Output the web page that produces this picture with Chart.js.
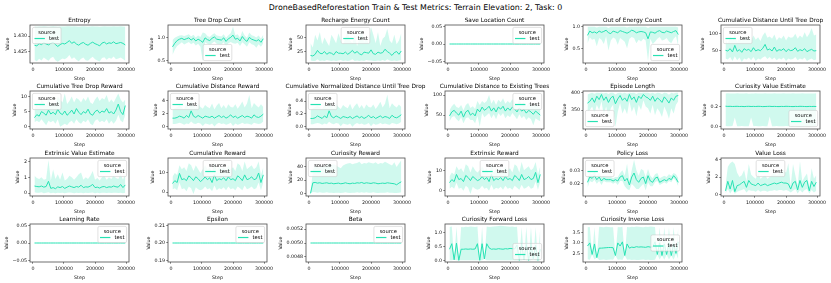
<!DOCTYPE html>
<html><head><meta charset="utf-8">
<script src="https://cdn.jsdelivr.net/npm/chart.js@4.4.1/dist/chart.umd.min.js"></script>
<style>
html,body{margin:0;padding:0;background:#fff;}
#fig{position:relative;width:831px;height:283px;overflow:hidden;background:#fff;}
#sup{position:absolute;left:0;top:2.8px;width:831px;text-align:center;font-family:"DejaVu Sans";font-size:7.9px;line-height:9.5px;color:#000;white-space:nowrap;}
canvas{position:absolute;}
</style></head><body>
<div id="fig"><div id="sup">DroneBasedReforestation Train &amp; Test Metrics: Terrain Elevation: 2, Task: 0</div></div>
<script>
const steps = [5000,12500,20000,27500,35000,42500,50000,57500,65000,72500,80000,87500,95000,102500,110000,117500,125000,132500,140000,147500,155000,162500,170000,177500,185000,192500,200000,207500,215000,222500,230000,237500,245000,252500,260000,267500,275000,282500,290000,297500];
const xTicks = [0,100000,200000,300000];
const xTickLabels = ['0','100000','200000','300000'];
const legendTitle = 'source';
const seriesName = 'test';

const entropyMean = [1.4270,1.4268,1.4275,1.4272,1.4278,1.4274,1.4271,1.4276,1.4280,1.4272,1.4266,1.4272,1.4276,1.4274,1.4279,1.4285,1.4276,1.4281,1.4274,1.4270,1.4276,1.4279,1.4273,1.4270,1.4276,1.4280,1.4275,1.4272,1.4268,1.4277,1.4280,1.4274,1.4278,1.4276,1.4281,1.4275,1.4277,1.4279,1.4276,1.4271];
const entropyLo = [1.4222,1.4218,1.4226,1.4220,1.4230,1.4224,1.4219,1.4228,1.4232,1.4221,1.4216,1.4222,1.4227,1.4224,1.4229,1.4238,1.4225,1.4231,1.4223,1.4218,1.4226,1.4230,1.4221,1.4219,1.4227,1.4232,1.4224,1.4220,1.4217,1.4228,1.4231,1.4223,1.4229,1.4226,1.4233,1.4224,1.4227,1.4230,1.4225,1.4219];
const entropyHi = [1.4331,1.4330,1.4331,1.4331,1.4332,1.4331,1.4330,1.4331,1.4332,1.4331,1.4330,1.4331,1.4331,1.4331,1.4332,1.4332,1.4331,1.4332,1.4331,1.4330,1.4331,1.4332,1.4331,1.4330,1.4331,1.4332,1.4331,1.4331,1.4330,1.4331,1.4332,1.4331,1.4331,1.4331,1.4332,1.4331,1.4331,1.4332,1.4331,1.4330];
const entropyTicks = [1.425,1.430];
const entropyTickLabels = ['1.425','1.430'];

const treeDropMean = [0.80,0.88,0.94,0.97,0.99,0.96,0.98,1.00,0.95,0.99,0.93,0.97,0.94,0.90,1.00,0.96,0.94,0.99,1.02,0.97,0.96,0.95,1.00,0.92,0.98,1.01,1.06,0.97,0.99,0.93,1.03,0.96,0.92,1.01,0.97,0.95,0.93,0.96,0.90,0.98];
const treeDropLo = [0.62,0.74,0.82,0.86,0.90,0.85,0.88,0.91,0.86,0.89,0.83,0.87,0.80,0.48,0.90,0.87,0.84,0.88,0.92,0.87,0.86,0.85,0.90,0.80,0.88,0.91,0.88,0.87,0.89,0.82,0.90,0.86,0.80,0.90,0.86,0.84,0.78,0.86,0.80,0.88];
const treeDropHi = [0.95,1.00,1.03,1.05,1.06,1.04,1.06,1.08,1.03,1.07,1.01,1.05,1.02,1.12,1.10,1.04,1.02,1.07,1.10,1.05,1.04,1.03,1.08,1.00,1.06,1.10,1.245,1.06,1.08,1.01,1.15,1.05,1.00,1.12,1.06,1.04,1.01,1.05,0.98,1.07];
const treeDropTicks = [0.5,1.0];
const treeDropTickLabels = ['0.5','1.0'];

const rechargeMean = [18,17,20,27,22,21,25,20,23,22,19,25,22,22,21,24,20,23,27,22,25,21,19,24,23,22,28,21,20,24,22,23,29,25,22,18,23,25,20,26];
const rechargeLo = [9,8,8,11,8,9,8,10,9,8,9,8,9,10,8,9,8,9,11,8,9,8,9,8,10,9,9,8,8,9,8,10,8,11,9,8,9,8,9,10];
const rechargeHi = [40,32,55,45,60,38,50,42,35,55,48,40,58,45,38,50,62,45,40,55,35,48,65,42,50,38,69,55,40,60,35,48,52,66,45,40,55,38,45,58];
const rechargeTicks = [25,50];
const rechargeTickLabels = ['25','50'];

const saveLocMean = [0,0,0,0,0,0,0,0,0,0,0,0,0,0,0,0,0,0,0,0,0,0,0,0,0,0,0,0,0,0,0,0,0,0,0,0,0,0,0,0];
const saveLocTicks = [-0.05,0,0.05];
const saveLocTickLabels = ['\u22120.05','0.00','0.05'];

const outEnergyMean = [0.80,0.90,0.86,0.88,0.85,0.90,0.87,0.89,0.92,0.86,0.84,0.90,0.88,0.86,0.91,0.89,0.87,0.85,0.88,0.92,0.90,0.86,0.88,0.89,0.88,0.86,0.72,0.88,0.87,0.85,0.89,0.91,0.87,0.86,0.90,0.88,0.86,0.89,0.91,0.82];
const outEnergyLo = [0.62,0.75,0.70,0.72,0.55,0.74,0.70,0.60,0.78,0.45,0.68,0.75,0.72,0.58,0.74,0.70,0.65,0.50,0.72,0.76,0.74,0.62,0.70,0.66,0.72,0.68,0.20,0.72,0.60,0.65,0.72,0.76,0.68,0.70,0.74,0.66,0.62,0.72,0.78,0.55];
const outEnergyHi = [1.0,1.0,1.0,1.0,0.98,1.0,1.0,1.0,1.0,0.97,1.0,1.0,1.0,1.0,1.0,1.0,1.0,0.98,1.0,1.0,1.0,1.0,1.0,1.0,1.0,1.0,0.97,1.0,1.0,1.0,1.0,1.0,1.0,1.0,1.0,1.0,1.0,1.0,1.0,0.98];
const outEnergyTicks = [0.5,1.0];
const outEnergyTickLabels = ['0.5','1.0'];

const distUntilDropMean = [50,48,55,45,65,47,52,44,55,50,53,46,58,48,52,49,56,68,51,54,48,60,47,52,50,55,46,53,49,51,58,47,52,49,55,46,50,53,48,49];
const distUntilDropLo = [25,22,30,18,32,20,28,15,25,22,28,20,30,18,25,22,28,32,24,30,22,28,20,26,22,28,18,25,22,24,30,20,25,22,28,18,22,25,20,22];
const distUntilDropHi = [85,70,95,80,100,75,90,78,92,85,88,80,95,82,90,78,95,105,88,92,85,98,80,90,85,95,80,92,88,90,100,85,95,88,105,90,100,118,95,98];
const distUntilDropTicks = [50,100];
const distUntilDropTickLabels = ['50','100'];

const treeDropRewardMean = [3.0,4.0,3.5,5.0,4.5,3.8,5.5,4.2,4.8,4.0,5.8,4.5,4.0,5.2,3.8,4.5,5.5,4.2,6.0,4.8,4.0,5.0,4.5,5.8,4.2,3.8,5.0,5.5,4.5,5.2,4.8,6.0,4.5,5.0,4.2,5.5,7.5,5.0,4.0,7.0];
const treeDropRewardLo = [1.5,2,1.5,2.5,1.5,0.5,2,1.5,2,1,2.5,0,0.5,1,0.5,1.5,2,1,2.5,1.5,1,2,1.5,2.5,1,0.5,2,2.5,1.5,2,1.5,2.5,1,2,1,2,4,2,1.5,4];
const treeDropRewardHi = [6,7,6.5,9,8,7,9.5,7.5,8,7,10,9,8,11,7.5,8.5,10,8,9.5,9,8,9.5,8.5,10,8,7.5,9,10,8.5,9.5,9,10.5,8,9,8,9.5,11,9,8,9];
const treeDropRewardTicks = [0,5,10];
const treeDropRewardTickLabels = ['0','5','10'];

const distRewardMean = [1.3,1.3,1.4,1.6,1.5,1.3,1.7,1.4,2.4,1.6,1.4,1.7,1.5,1.3,1.6,1.5,1.4,1.6,1.3,1.5,1.7,1.4,1.6,1.3,1.5,1.8,1.4,1.6,1.3,1.5,1.7,1.4,1.6,1.5,1.3,1.8,1.5,1.4,1.6,1.9];
const distRewardLo = [0.4,0.4,0.5,0.6,0.5,0.3,0.5,0.4,0.8,0.5,0.4,0.6,0.5,0.1,0.5,0.4,0.3,0.5,0.05,0.4,0.6,0.4,0.5,0.3,0.4,0.6,0.1,0.5,0.3,0.4,0.6,0.4,0.5,0.4,0.3,0.6,0.5,0.4,0.5,0.8];
const distRewardHi = [2.5,2.8,3.0,3.2,3.0,2.6,3.5,2.8,4.0,3.2,2.8,3.5,3.0,2.7,3.3,3.0,2.8,3.5,2.6,3.2,3.6,2.8,3.3,2.7,3.4,3.0,2.9,3.4,2.7,3.2,3.8,2.9,3.5,4.8,2.8,3.6,3.2,2.9,3.4,3.0];
const distRewardTicks = [0,2,4];
const distRewardTickLabels = ['0','2','4'];

const normDistMean = [0.13,0.13,0.14,0.17,0.15,0.13,0.17,0.14,0.25,0.16,0.14,0.17,0.15,0.13,0.16,0.15,0.14,0.16,0.13,0.15,0.17,0.14,0.16,0.13,0.15,0.18,0.14,0.16,0.13,0.15,0.17,0.14,0.16,0.15,0.13,0.18,0.15,0.14,0.16,0.19];
const normDistLo = [0.04,0.04,0.05,0.06,0.05,0.03,0.05,0.04,0.08,0.05,0.04,0.06,0.05,0.01,0.05,0.04,0.03,0.05,0.00,0.04,0.06,0.04,0.05,0.03,0.04,0.06,0.01,0.05,0.03,0.04,0.06,0.04,0.05,0.04,0.03,0.06,0.05,0.04,0.05,0.08];
const normDistHi = [0.26,0.29,0.31,0.33,0.31,0.27,0.36,0.29,0.41,0.33,0.29,0.36,0.31,0.28,0.34,0.31,0.29,0.36,0.27,0.33,0.37,0.29,0.34,0.28,0.35,0.31,0.30,0.35,0.28,0.33,0.39,0.30,0.36,0.50,0.29,0.37,0.33,0.30,0.35,0.31];
const normDistTicks = [0,0.2,0.4];
const normDistTickLabels = ['0.0','0.2','0.4'];

const distTreesMean = [48,58,62,55,50,60,45,58,62,50,55,48,65,58,70,62,66,72,60,68,58,70,65,72,60,68,62,70,65,58,68,60,64,55,62,58,52,60,55,50];
const distTreesLo = [35,45,48,40,35,45,30,42,45,38,38,30,48,22,55,45,50,55,42,52,40,55,48,55,42,50,45,55,48,40,52,42,48,38,45,40,25,42,38,35];
const distTreesHi = [62,72,78,70,68,75,62,75,80,68,72,65,85,75,85,80,85,100,78,88,75,88,82,92,78,85,80,90,82,75,88,78,82,72,80,76,70,78,72,68];
const distTreesTicks = [50,100];
const distTreesTickLabels = ['50','100'];

const episodeLenMean = [370,375,385,372,390,380,395,378,388,372,385,390,368,382,392,378,385,375,395,380,388,372,390,383,395,388,385,378,390,375,385,380,372,388,380,370,385,378,390,392];
const episodeLenLo = [345,350,360,340,365,350,375,335,360,330,355,365,300,345,370,340,355,338,375,345,360,332,365,350,378,360,355,340,365,335,355,345,330,360,345,325,355,340,365,375];
const episodeLenHi = [395,398,400,397,400,399,400,398,400,396,400,400,395,399,400,398,400,397,400,399,400,396,400,399,400,400,400,398,400,397,400,399,396,400,399,394,400,398,400,400];
const episodeLenTicks = [350,400];
const episodeLenTickLabels = ['350','400'];

const curValueMean = [0.203,0.201,0.202,0.200,0.201,0.202,0.200,0.201,0.199,0.201,0.202,0.200,0.201,0.200,0.202,0.201,0.199,0.200,0.201,0.202,0.200,0.201,0.200,0.199,0.201,0.200,0.202,0.201,0.200,0.199,0.201,0.200,0.202,0.201,0.200,0.199,0.201,0.200,0.201,0.200];
const curValueLo = [0.005,0.002,0.003,0.004,0.09,0.003,0.002,0.004,0.003,0.002,0.003,0.09,0.002,0.004,0.003,0.002,0.004,0.003,0.002,0.10,0.003,0.002,0.004,0.003,0.002,0.003,0.004,0.002,0.003,0.002,0.004,0.003,0.002,0.003,0.004,0.002,0.003,0.002,0.004,0.003];
const curValueHi = [0.330,0.332,0.329,0.331,0.330,0.333,0.329,0.331,0.330,0.332,0.328,0.331,0.330,0.332,0.329,0.331,0.330,0.333,0.329,0.331,0.330,0.332,0.329,0.331,0.330,0.332,0.330,0.331,0.329,0.332,0.330,0.331,0.329,0.332,0.330,0.331,0.329,0.331,0.330,0.332];
const curValueTicks = [0,0.2];
const curValueTickLabels = ['0.0','0.2'];

const extValueMean = [0.45,0.42,0.40,0.45,0.38,0.42,0.75,0.30,0.35,0.28,0.40,0.35,0.42,0.30,0.38,0.45,0.40,0.35,0.42,0.38,0.50,0.35,0.40,0.38,0.45,0.55,0.35,0.38,0.32,0.40,0.42,0.35,0.40,0.38,0.45,0.40,0.38,0.55,0.35,0.52];
const extValueLo = [0.05,0.03,0.02,0.05,0.0,0.02,0.05,0.0,0.02,0.0,0.03,0.01,0.02,0.0,0.02,0.04,0.02,0.0,0.02,0.01,0.03,0.0,0.02,0.01,0.03,0.04,0.0,0.02,0.0,0.02,0.03,0.01,0.02,0.01,0.03,0.02,0.01,0.03,0.0,0.03];
const extValueHi = [1.1,0.95,0.9,1.0,0.85,0.9,2.1,0.8,1.5,0.9,1.2,0.85,1.3,0.8,0.9,1.1,1.0,0.85,1.0,1.2,1.3,0.85,1.0,0.9,1.1,1.4,0.85,0.95,0.8,1.0,1.1,0.85,1.0,0.9,1.1,0.95,0.9,1.2,0.85,1.2];
const extValueTicks = [0,1,2];
const extValueTickLabels = ['0','1','2'];

const cumRewardMean = [4.5,6.0,5.0,9.8,6.5,7.0,6.0,8.5,7.5,6.0,8.0,7.0,5.5,6.5,8.0,6.5,7.5,5.0,9.0,6.0,7.0,6.5,7.5,6.0,8.0,6.5,7.0,6.0,8.5,7.5,6.0,9.0,6.5,7.0,8.0,6.5,7.0,10.0,5.0,9.0];
const cumRewardLo = [1.5,2,1,5,1.5,2,0.5,3,2,-1,2.5,1.5,1,1.5,3,1.5,2,0.5,3.5,1,2,1.5,2.5,1,3,1.5,2,1,3,2,1,3.5,1.5,2,3,1.5,2,5,1,5];
const cumRewardHi = [8,10,9,14,12,13,11,15,14,11,14,12,10,12,14,12,13,10,15,11,13,12,13,11,14,12,13,11,15,14,11,16,12,13,14,12,13,16,9,13];
const cumRewardTicks = [0,10];
const cumRewardTickLabels = ['0','10'];

const curRewardMean = [0,16,16.5,15.5,16,15,15.5,16,15,15.5,14.5,15,15.5,14.5,15,16,15,14.5,15.5,15,16,15.5,16.5,15,16,15.5,15,16,15.5,14.5,15,15.5,15,16,15.5,15,14.5,13,15.5,17.5];
const curRewardLo = [0,2,1.5,1,1.5,1,1,1.5,1,1,0.5,1,1,0.5,1,1.5,1,0.5,1,1,1.5,1,1.5,1,1.5,1,1,1.5,1,0.5,1,1,1,1.5,1,1,0.5,0.5,1,1.5];
const curRewardHi = [0,35,42,40,38,42,40,44,45,43,44,42,40,38,42,44,45,46,44,45,46,48,44,46,45,47,46,45,47,44,46,45,48,46,44,42,47,40,45,50];
const curRewardTicks = [0,20,40];
const curRewardTickLabels = ['0','20','40'];

const extRewardMean = [4.0,5.5,4.5,8.0,5.5,6.0,4.5,7.5,6.5,5.0,7.0,6.0,5.0,5.5,7.0,5.5,6.5,4.5,8.0,5.0,6.0,5.5,6.5,5.0,7.0,5.5,6.0,5.0,7.5,6.5,5.0,8.0,5.5,6.0,7.0,5.5,6.0,9.0,4.0,8.0];
const extRewardLo = [1,2,1,4,1,1.5,0,2.5,1.5,-1.5,2,1,0.5,1,2.5,1,1.5,0,3,0.5,1.5,1,2,0.5,2.5,1,1.5,0.5,2.5,1.5,0.5,3,1,1.5,2.5,1,1.5,4.5,0.5,4.5];
const extRewardHi = [7,9,8,12,10,11,9,13,12,9,12,10,9,10,12,10,11,8,13,9,11,10,11,9,12,10,11,9,13,12,9,14,10,11,12,10,11,14,8,12];
const extRewardTicks = [0,10];
const extRewardTickLabels = ['0','10'];

const policyLossMean = [0.021,0.025,0.024,0.026,0.023,0.025,0.022,0.024,0.023,0.023,0.023,0.022,0.023,0.022,0.025,0.026,0.022,0.024,0.019,0.025,0.028,0.023,0.021,0.024,0.025,0.020,0.026,0.022,0.021,0.024,0.025,0.021,0.022,0.023,0.022,0.024,0.023,0.026,0.024,0.021];
const policyLossLo = [0.017,0.022,0.021,0.023,0.020,0.022,0.019,0.022,0.021,0.021,0.021,0.020,0.021,0.019,0.022,0.022,0.018,0.016,0.015,0.020,0.018,0.016,0.016,0.018,0.020,0.015,0.021,0.018,0.018,0.021,0.022,0.019,0.020,0.021,0.020,0.022,0.021,0.024,0.022,0.018];
const policyLossHi = [0.025,0.028,0.027,0.029,0.026,0.028,0.025,0.026,0.025,0.025,0.025,0.024,0.025,0.025,0.028,0.030,0.026,0.035,0.022,0.030,0.038,0.030,0.026,0.031,0.030,0.025,0.031,0.026,0.024,0.027,0.028,0.024,0.025,0.026,0.025,0.027,0.026,0.028,0.027,0.024];
const policyLossTicks = [0.02,0.03];
const policyLossTickLabels = ['0.02','0.03'];

const valueLossMean = [0.4,1.5,0.6,1.6,0.3,1.0,1.1,1.3,1.5,0.8,1.6,1.2,1.1,1.0,1.3,1.0,1.1,1.2,1.0,1.1,1.2,1.3,1.2,1.3,1.4,1.3,1.3,1.2,0.6,1.3,1.5,0.5,1.6,0.8,1.4,1.6,0.4,1.5,0.9,1.4];
const valueLossLo = [0.1,0.6,0.1,0.5,0.05,0.3,0.4,0.5,0.6,0.2,0.5,0.4,0.4,0.3,0.5,0.3,0.4,0.4,0.3,0.4,0.4,0.5,0.4,0.5,0.5,0.4,0.5,0.4,0.2,0.4,0.6,0.1,0.5,0.2,0.5,0.6,0.1,0.5,0.2,0.4];
const valueLossHi = [1.0,3.2,3.6,3.8,3.5,2.5,2.0,2.2,2.8,1.5,3.5,2.3,2.0,1.8,2.5,1.8,2.0,2.2,1.8,2.0,2.3,2.5,2.2,2.4,2.6,2.8,2.5,3.6,1.0,3.5,2.2,1.0,3.8,1.5,2.0,2.4,0.8,3.0,1.8,2.2];
const valueLossTicks = [0,2,4];
const valueLossTickLabels = ['0','2','4'];

const learningRateMean = [0,0,0,0,0,0,0,0,0,0,0,0,0,0,0,0,0,0,0,0,0,0,0,0,0,0,0,0,0,0,0,0,0,0,0,0,0,0,0,0];
const learningRateTicks = [-0.05,0,0.05];
const learningRateTickLabels = ['\u22120.05','0.00','0.05'];

const epsilonMean = [0.2,0.2,0.2,0.2,0.2,0.2,0.2,0.2,0.2,0.2,0.2,0.2,0.2,0.2,0.2,0.2,0.2,0.2,0.2,0.2,0.2,0.2,0.2,0.2,0.2,0.2,0.2,0.2,0.2,0.2,0.2,0.2,0.2,0.2,0.2,0.2,0.2,0.2,0.2,0.2];
const epsilonTicks = [0.19,0.20,0.21];
const epsilonTickLabels = ['0.19','0.20','0.21'];

const betaMean = [0.005,0.005,0.005,0.005,0.005,0.005,0.005,0.005,0.005,0.005,0.005,0.005,0.005,0.005,0.005,0.005,0.005,0.005,0.005,0.005,0.005,0.005,0.005,0.005,0.005,0.005,0.005,0.005,0.005,0.005,0.005,0.005,0.005,0.005,0.005,0.005,0.005,0.005,0.005,0.005];
const betaTicks = [0.0048,0.0050,0.0052];
const betaTickLabels = ['0.0048','0.0050','0.0052'];

const fwdLossMean = [0.40,0.60,0.02,0.62,0.00,0.40,0.40,0.41,0.40,0.41,0.40,0.41,0.60,0.00,0.60,0.05,0.60,0.45,0.40,0.41,0.40,0.42,0.41,0.40,0.42,0.41,0.43,0.42,0.41,0.55,0.00,0.60,0.02,0.58,0.00,0.60,0.05,0.55,0.00,0.40];
const fwdLossLo = [0,0,0.02,0,0,0,0,0,0,0,0,0,0,0,0,0.05,0,0,0,0,0,0,0,0,0,0,0,0,0,0,0,0,0.02,0,0,0,0.05,0,0,0];
const fwdLossHi = [1.20,1.22,0.02,1.21,0.00,1.20,1.19,1.21,1.20,1.22,1.21,1.20,1.22,0.00,1.21,0.05,1.22,1.20,1.21,1.22,1.23,1.24,1.25,1.24,1.23,1.22,1.21,1.22,1.20,1.21,0.00,1.20,0.02,1.21,0.00,1.20,0.05,1.19,0.00,1.18];
const fwdLossTicks = [0,0.5,1.0];
const fwdLossTickLabels = ['0.0','0.5','1.0'];

const invLossMean = [2.85,3.00,2.45,2.95,2.30,2.75,2.75,2.76,2.77,2.78,2.78,2.77,2.40,3.00,2.85,3.05,2.40,2.95,2.75,2.80,2.78,2.82,2.80,2.81,2.80,2.79,2.82,2.80,2.81,3.05,2.45,3.00,2.40,2.95,2.45,3.00,2.40,2.95,2.50,3.05];
const invLossLo = [2.22,2.20,2.45,2.21,2.30,2.19,2.20,2.21,2.19,2.20,2.21,2.20,2.40,2.20,2.21,2.19,2.40,2.20,2.21,2.19,2.20,2.18,2.19,2.20,2.21,2.19,2.20,2.18,2.19,2.20,2.45,2.21,2.40,2.20,2.45,2.21,2.40,2.20,2.50,2.22];
const invLossHi = [3.74,3.76,2.45,3.75,2.30,3.77,3.76,3.75,3.77,3.76,3.75,3.74,2.40,3.76,3.75,3.77,2.40,3.76,3.75,3.77,3.76,3.78,3.77,3.76,3.75,3.77,3.76,3.78,3.77,3.76,2.45,3.75,2.40,3.76,2.45,3.75,2.40,3.76,2.50,3.74];
const invLossTicks = [2.5,3.0,3.5];
const invLossTickLabels = ['2.5','3.0','3.5'];

const panels = [
  {title:'Entropy', mean:entropyMean, lo:entropyLo, hi:entropyHi, yMin:1.4212, yMax:1.4336, ticks:entropyTicks, labels:entropyTickLabels, loc:'ul'},
  {title:'Tree Drop Count', mean:treeDropMean, lo:treeDropLo, hi:treeDropHi, yMin:0.44, yMax:1.286, ticks:treeDropTicks, labels:treeDropTickLabels, loc:'lc'},
  {title:'Recharge Energy Count', mean:rechargeMean, lo:rechargeLo, hi:rechargeHi, yMin:4.4, yMax:72.6, ticks:rechargeTicks, labels:rechargeTickLabels, loc:'uc'},
  {title:'Save Location Count', mean:saveLocMean, yMin:-0.055, yMax:0.055, ticks:saveLocTicks, labels:saveLocTickLabels, loc:'ur'},
  {title:'Out of Energy Count', mean:outEnergyMean, lo:outEnergyLo, hi:outEnergyHi, yMin:0.16, yMax:1.04, ticks:outEnergyTicks, labels:outEnergyTickLabels, loc:'lr'},
  {title:'Cumulative Distance Until Tree Drop', mean:distUntilDropMean, lo:distUntilDropLo, hi:distUntilDropHi, yMin:11.6, yMax:126.8, ticks:distUntilDropTicks, labels:distUntilDropTickLabels, loc:'ul'},
  {title:'Cumulative Tree Drop Reward', mean:treeDropRewardMean, lo:treeDropRewardLo, hi:treeDropRewardHi, yMin:-0.74, yMax:11.8, ticks:treeDropRewardTicks, labels:treeDropRewardTickLabels, loc:'ul'},
  {title:'Cumulative Distance Reward', mean:distRewardMean, lo:distRewardLo, hi:distRewardHi, yMin:-0.34, yMax:5.4, ticks:distRewardTicks, labels:distRewardTickLabels, loc:'ul'},
  {title:'Cumulative Normalized Distance Until Tree Drop', mean:normDistMean, lo:normDistLo, hi:normDistHi, yMin:-0.035, yMax:0.56, ticks:normDistTicks, labels:normDistTickLabels, loc:'ul'},
  {title:'Cumulative Distance to Existing Trees', mean:distTreesMean, lo:distTreesLo, hi:distTreesHi, yMin:15.5, yMax:110, ticks:distTreesTicks, labels:distTreesTickLabels, loc:'ur'},
  {title:'Episode Length', mean:episodeLenMean, lo:episodeLenLo, hi:episodeLenHi, yMin:295, yMax:405, ticks:episodeLenTicks, labels:episodeLenTickLabels, loc:'ll'},
  {title:'Curiosity Value Estimate', mean:curValueMean, lo:curValueLo, hi:curValueHi, yMin:-0.025, yMax:0.355, ticks:curValueTicks, labels:curValueTickLabels, loc:'lr'},
  {title:'Extrinsic Value Estimate', mean:extValueMean, lo:extValueLo, hi:extValueHi, yMin:-0.18, yMax:2.22, ticks:extValueTicks, labels:extValueTickLabels, loc:'ur'},
  {title:'Cumulative Reward', mean:cumRewardMean, lo:cumRewardLo, hi:cumRewardHi, yMin:-2.0, yMax:17.8, ticks:cumRewardTicks, labels:cumRewardTickLabels, loc:'uc'},
  {title:'Curiosity Reward', mean:curRewardMean, lo:curRewardLo, hi:curRewardHi, yMin:-4, yMax:53.5, ticks:curRewardTicks, labels:curRewardTickLabels, loc:'ul'},
  {title:'Extrinsic Reward', mean:extRewardMean, lo:extRewardLo, hi:extRewardHi, yMin:-2.5, yMax:16, ticks:extRewardTicks, labels:extRewardTickLabels, loc:'uc'},
  {title:'Policy Loss', mean:policyLossMean, lo:policyLossLo, hi:policyLossHi, yMin:0.0107, yMax:0.0393, ticks:policyLossTicks, labels:policyLossTickLabels, loc:'ul'},
  {title:'Value Loss', mean:valueLossMean, lo:valueLossLo, hi:valueLossHi, yMin:-0.2, yMax:4.2, ticks:valueLossTicks, labels:valueLossTickLabels, loc:'uc'},
  {title:'Learning Rate', mean:learningRateMean, yMin:-0.055, yMax:0.055, ticks:learningRateTicks, labels:learningRateTickLabels, loc:'ur'},
  {title:'Epsilon', mean:epsilonMean, yMin:0.189, yMax:0.211, ticks:epsilonTicks, labels:epsilonTickLabels, loc:'ur'},
  {title:'Beta', mean:betaMean, yMin:0.004725, yMax:0.005275, ticks:betaTicks, labels:betaTickLabels, loc:'ur'},
  {title:'Curiosity Forward Loss', mean:fwdLossMean, lo:fwdLossLo, hi:fwdLossHi, yMin:-0.06, yMax:1.31, ticks:fwdLossTicks, labels:fwdLossTickLabels, loc:'lr'},
  {title:'Curiosity Inverse Loss', mean:invLossMean, lo:invLossLo, hi:invLossHi, yMin:2.09, yMax:3.9, ticks:invLossTicks, labels:invLossTickLabels, loc:'cr'}
];

const FONT = '"DejaVu Sans"';
const LINE = '#27e2b3';
const BAND = 'rgba(39,226,179,0.22)';
const FRAME = '#4d4d4d';
const colLeft = [30,168,306,445,583,721];
const rowTop = [25,91,158,224];
const plotW = 99, plotH = 38, padRight = 26, padLeftExtra = 12, padTopSpace = 11;

const mplDecor = {
  id:'mplDecor',
  afterDraw(chart, args, o) {
    const ctx = chart.ctx, a = chart.chartArea;
    ctx.save();
    ctx.strokeStyle = FRAME; ctx.lineWidth = 0.8;
    ctx.strokeRect(a.left, a.top, a.right - a.left, a.bottom - a.top);
    ctx.font = '5.8px ' + FONT;
    ctx.fillStyle = '#000'; ctx.textAlign = 'center'; ctx.textBaseline = 'middle';
    ctx.fillText(o.title, (a.left + a.right)/2, a.top - 4.6);
    const fs = 5.2;
    ctx.font = fs + 'px ' + FONT;
    const tw = ctx.measureText(seriesName).width, sw = ctx.measureText(legendTitle).width;
    const pad = 0.4*fs;
    const w = Math.max(sw, 2.8*fs + tw) + 2*pad;
    const h = 16.2, off = 2.4;
    const loc = o.loc;
    let x, y;
    if (loc[1] === 'l') x = a.left + off; else if (loc[1] === 'r') x = a.right - off - w; else x = (a.left + a.right - w)/2;
    if (loc[0] === 'u') y = a.top + off; else if (loc[0] === 'l') y = a.bottom - off - h; else y = (a.top + a.bottom - h)/2;
    ctx.beginPath();
    ctx.roundRect(x, y, w, h, 1.5);
    ctx.fillStyle = 'rgba(255,255,255,0.8)'; ctx.fill();
    ctx.strokeStyle = '#cccccc'; ctx.lineWidth = 0.6; ctx.stroke();
    ctx.fillStyle = '#000'; ctx.textBaseline = 'middle'; ctx.textAlign = 'center';
    ctx.fillText(legendTitle, x + w/2, y + pad + 2.8);
    const ey = y + h - pad - 3.0;
    ctx.beginPath(); ctx.moveTo(x + pad, ey); ctx.lineTo(x + pad + 2*fs, ey);
    ctx.strokeStyle = LINE; ctx.lineWidth = 1.2; ctx.stroke();
    ctx.textAlign = 'left';
    ctx.fillText(seriesName, x + pad + 2.8*fs, ey);
    ctx.restore();
  }
};

function pts(arr){ return arr.map((v,i)=>({x:steps[i], y:v})); }

function makeCfg(p, padL, padT, padB) {
  const datasets = [{data:pts(p.mean), borderColor:LINE, borderWidth:1, pointRadius:0, fill:false, tension:0}];
  if (p.lo) {
    datasets.push({data:pts(p.hi), borderColor:'rgba(0,0,0,0)', borderWidth:0, pointRadius:0, fill:'+1', backgroundColor:BAND, tension:0});
    datasets.push({data:pts(p.lo), borderColor:'rgba(0,0,0,0)', borderWidth:0, pointRadius:0, fill:false, tension:0});
  }
  const tickFont = {family:FONT, size:4.75, lineHeight:1.0};
  return {
    type:'line',
    data:{datasets},
    plugins:[mplDecor],
    options:{
      responsive:false, maintainAspectRatio:false, animation:false, devicePixelRatio:1,
      layout:{padding:{left:padL, top:padT, right:padRight, bottom:padB}},
      plugins:{
        legend:{display:false}, tooltip:{enabled:false}, title:{display:false},
        mplDecor:{loc:p.loc, title:p.title}
      },
      scales:{
        x:{type:'linear', min:-9500, max:309500,
           afterBuildTicks:s=>{ s.ticks = xTicks.map(v=>({value:v})); },
           ticks:{callback:(v,i)=>xTickLabels[i], font:tickFont, color:'#111', padding:2.6, maxRotation:0, minRotation:0, autoSkip:false},
           grid:{display:true, drawOnChartArea:false, drawTicks:true, tickLength:1.7, tickColor:'#222', tickWidth:0.6},
           border:{display:false},
           title:{display:true, text:'Step', color:'#111', font:tickFont, padding:{top:1.3, bottom:0}}},
        y:{type:'linear', min:p.yMin, max:p.yMax,
           afterBuildTicks:s=>{ s.ticks = p.ticks.map(v=>({value:v})); },
           ticks:{callback:(v,i)=>p.labels[i], font:tickFont, color:'#111', padding:1.3, autoSkip:false},
           grid:{display:true, drawOnChartArea:false, drawTicks:true, tickLength:1.7, tickColor:'#222', tickWidth:0.6},
           border:{display:false},
           title:{display:true, text:'Value', color:'#111', font:tickFont, padding:{top:0, bottom:2.3}}}
      }
    }
  };
}

const fig = document.getElementById('fig');
panels.forEach((p, k) => {
  const r = Math.floor(k/6), c = k % 6;
  const c1 = document.createElement('canvas');
  c1.width = 260; c1.height = 120;
  c1.style.width = '260px'; c1.style.height = '120px'; c1.style.left = '-1000px'; c1.style.top = '0px';
  fig.appendChild(c1);
  const ch1 = new Chart(c1, makeCfg(p, padLeftExtra, padTopSpace, 0));
  const L = ch1.chartArea.left, T = ch1.chartArea.top, B = 120 - ch1.chartArea.bottom;
  ch1.destroy();
  fig.removeChild(c1);
  const Li = Math.ceil(L), Ti = Math.ceil(T), Bi = Math.ceil(B);
  const W = Li + plotW + padRight, H = Ti + plotH + Bi;
  const cv = document.createElement('canvas');
  cv.width = W; cv.height = H;
  cv.style.width = W + 'px'; cv.style.height = H + 'px';
  cv.style.left = (colLeft[c] - Li) + 'px';
  cv.style.top = (rowTop[r] - Ti) + 'px';
  fig.appendChild(cv);
  new Chart(cv, makeCfg(p, padLeftExtra + Li - L, padTopSpace + Ti - T, Bi - B));
});
</script>
</body></html>
